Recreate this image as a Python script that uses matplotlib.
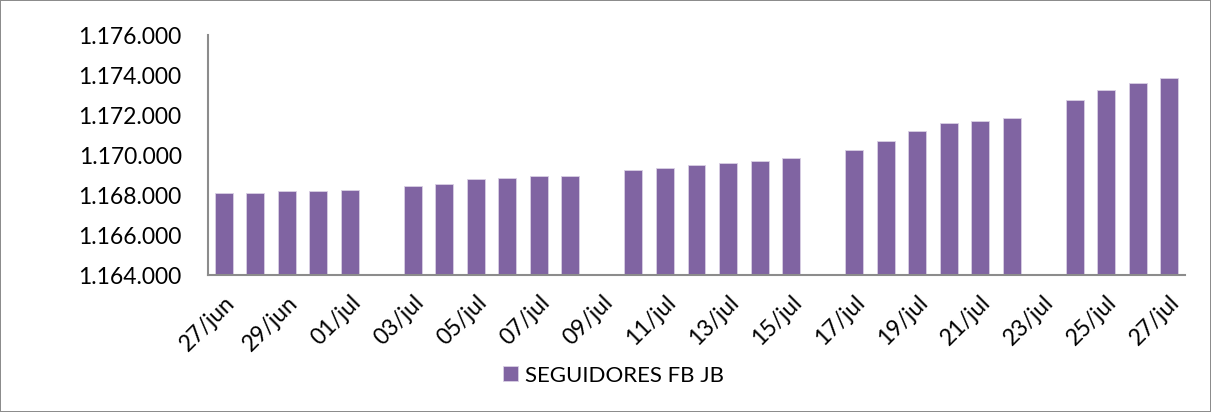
import numpy as np
import matplotlib
matplotlib.use("Agg")
import matplotlib.pyplot as plt
from matplotlib.ticker import FuncFormatter

# daily follower counts, gaps (no data) stored as nan
dates = ["27/jun", "28/jun", "29/jun", "30/jun", "01/jul", "02/jul", "03/jul", "04/jul",
         "05/jul", "06/jul", "07/jul", "08/jul", "09/jul", "10/jul", "11/jul", "12/jul",
         "13/jul", "14/jul", "15/jul", "16/jul", "17/jul", "18/jul", "19/jul", "20/jul",
         "21/jul", "22/jul", "23/jul", "24/jul", "25/jul", "26/jul", "27/jul"]
followers = [1168085, 1168115, 1168185, 1168200, 1168265, np.nan, 1168470, 1168550,
             1168785, 1168867, 1168935, 1168935, np.nan, 1169265, 1169350, 1169500,
             1169617, 1169683, 1169850, np.nan, 1170267, 1170717, 1171217, 1171583,
             1171717, 1171833, np.nan, 1172767, 1173267, 1173600, 1173850]
series_name = "SEGUIDORES FB JB"
y_ticks = [1164000, 1166000, 1168000, 1170000, 1172000, 1174000, 1176000]

plt.rcParams['font.family'] = ['Lato', 'DejaVu Sans']

fig = plt.figure(figsize=(12.11, 4.12), dpi=100, edgecolor='#8c8c8c', linewidth=1.2)
ax = fig.add_axes([0.1718, 0.3325, 0.8067, 0.5825])

x = np.arange(len(dates))
ax.bar(x, followers, width=0.57, color='#8064A2', edgecolor='#d9cfe4', linewidth=0.6,
       label=series_name)

ax.set_xlim(-0.5, len(dates) - 0.5)
ax.set_ylim(y_ticks[0], y_ticks[-1])
ax.set_yticks(y_ticks)
ax.yaxis.set_major_formatter(FuncFormatter(lambda v, p: f"{v:,.0f}".replace(",", ".")))
ax.set_xticks(x[::2])
ax.set_xticklabels(dates[::2], rotation=45, ha='right', rotation_mode='anchor')

ax.tick_params(axis='y', length=0, pad=19, labelsize=16.5)
ax.tick_params(axis='x', length=0, pad=12, labelsize=16.5)
for s in ['top', 'right']:
    ax.spines[s].set_visible(False)
for s in ['left', 'bottom']:
    ax.spines[s].set_color('#8c8c8c')
    ax.spines[s].set_linewidth(1.5)

fig.legend(loc='center left', bbox_to_anchor=(503 / 1211, 1 - 375.5 / 412), frameon=False,
           fontsize=16, handlelength=0.68, handleheight=0.68, handletextpad=0.3,
           borderpad=0, borderaxespad=0)

fig.savefig("out.png", dpi=100, edgecolor=fig.get_edgecolor())
